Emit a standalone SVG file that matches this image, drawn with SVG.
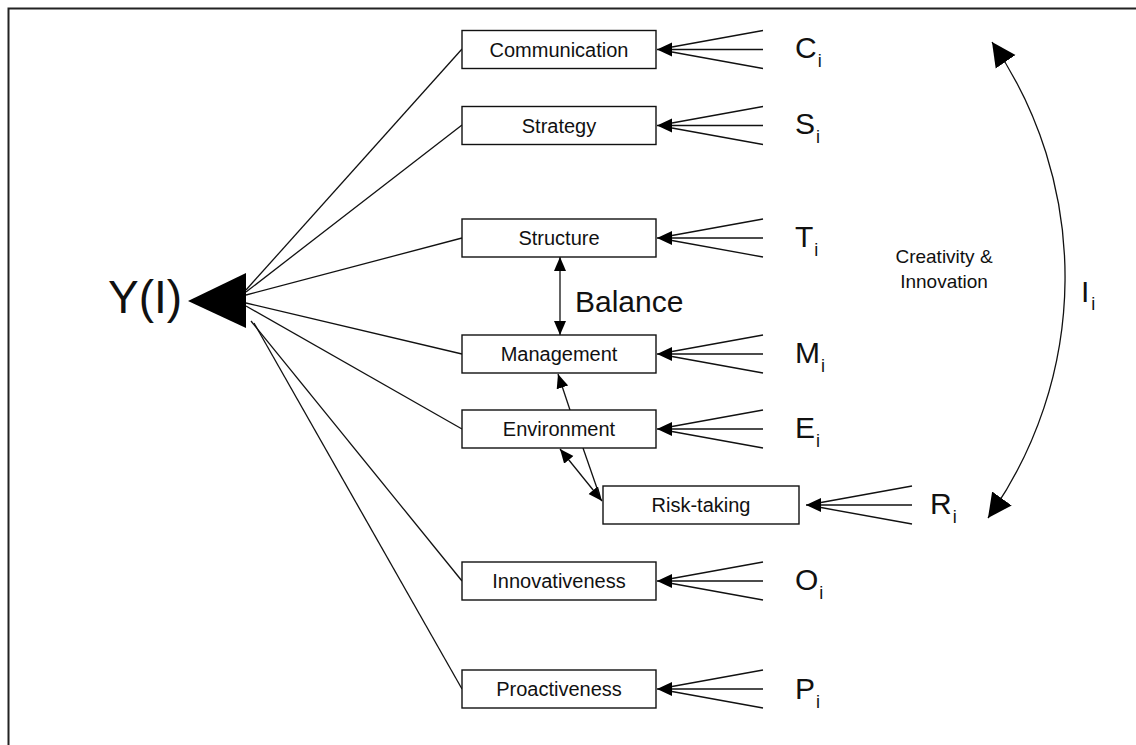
<svg xmlns="http://www.w3.org/2000/svg" width="1136" height="745" viewBox="0 0 1136 745">
  <style>
    .box rect { fill: #fff; stroke: #111; stroke-width: 1.4; }
    .box text { font-family: "Liberation Sans", Arial, sans-serif; font-size: 20px; fill: #111; text-anchor: middle; }
    .lbl { font-family: "Liberation Sans", Arial, sans-serif; font-size: 30px; fill: #111; }
    .lbl tspan.sub { font-size: 18px; }
    .ln { stroke: #111; stroke-width: 1.3; fill: none; }
    .note { font-family: "Liberation Sans", Arial, sans-serif; fill: #111; }
  </style>
  <defs>
    <marker id="tipSmall" markerUnits="userSpaceOnUse" markerWidth="16" markerHeight="16" viewBox="0 -8 16 16" refX="15" refY="0" orient="auto-start-reverse">
      <path d="M0,-7 L15,0 L0,7 z" fill="#000"/>
    </marker>
    <marker id="tipMid" markerUnits="userSpaceOnUse" markerWidth="16" markerHeight="16" viewBox="0 -8 16 16" refX="14" refY="0" orient="auto-start-reverse">
      <path d="M0,-6 L14,0 L0,6 z" fill="#000"/>
    </marker>
    <marker id="tipBig" markerUnits="userSpaceOnUse" markerWidth="26" markerHeight="26" viewBox="0 -13 26 26" refX="24" refY="0" orient="auto-start-reverse">
      <path d="M0,-12 L24,0 L0,12 z" fill="#000"/>
    </marker>
  </defs>

  <rect width="1136" height="745" fill="#fff"/>
  <!-- frame -->
  <path d="M8.5 760 V8.5 H1150" fill="none" stroke="#222" stroke-width="2"/>

  <!-- output node -->
  <g id="output">
    <text x="108" y="313" class="note" font-size="46">Y(I)</text>
    <polygon points="188,301 246,273 246,328" fill="#000"/>
  </g>

  <g id="connectors">
    <!-- from output to the dimension boxes -->
    <line class="ln" x1="246" y1="290" x2="462" y2="49"/>
    <line class="ln" x1="246" y1="292" x2="462" y2="125"/>
    <line class="ln" x1="246" y1="295" x2="462" y2="238"/>
    <line class="ln" x1="246" y1="303" x2="462" y2="354"/>
    <line class="ln" x1="246" y1="306" x2="462" y2="429"/>
    <line class="ln" x1="251" y1="321" x2="462" y2="581"/>
    <line class="ln" x1="254" y1="323" x2="462" y2="689"/>

    <!-- input fans -->
    <g id="fan-c" transform="translate(0,49.5)">
      <line class="ln" x1="763" y1="-19" x2="672" y2="-2.5"/>
      <line class="ln" x1="763" y1="0" x2="657" y2="0" marker-end="url(#tipSmall)"/>
      <line class="ln" x1="763" y1="19" x2="672" y2="2.5"/>
    </g>
    <g id="fan-s" transform="translate(0,125.5)">
      <line class="ln" x1="763" y1="-19" x2="672" y2="-2.5"/>
      <line class="ln" x1="763" y1="0" x2="657" y2="0" marker-end="url(#tipSmall)"/>
      <line class="ln" x1="763" y1="19" x2="672" y2="2.5"/>
    </g>
    <g id="fan-t" transform="translate(0,238)">
      <line class="ln" x1="763" y1="-19" x2="672" y2="-2.5"/>
      <line class="ln" x1="763" y1="0" x2="657" y2="0" marker-end="url(#tipSmall)"/>
      <line class="ln" x1="763" y1="19" x2="672" y2="2.5"/>
    </g>
    <g id="fan-m" transform="translate(0,354)">
      <line class="ln" x1="763" y1="-19" x2="672" y2="-2.5"/>
      <line class="ln" x1="763" y1="0" x2="657" y2="0" marker-end="url(#tipSmall)"/>
      <line class="ln" x1="763" y1="19" x2="672" y2="2.5"/>
    </g>
    <g id="fan-e" transform="translate(0,429)">
      <line class="ln" x1="763" y1="-19" x2="672" y2="-2.5"/>
      <line class="ln" x1="763" y1="0" x2="657" y2="0" marker-end="url(#tipSmall)"/>
      <line class="ln" x1="763" y1="19" x2="672" y2="2.5"/>
    </g>
    <g id="fan-r" transform="translate(0,505)">
      <line class="ln" x1="912" y1="-19" x2="821" y2="-2.5"/>
      <line class="ln" x1="912" y1="0" x2="806" y2="0" marker-end="url(#tipSmall)"/>
      <line class="ln" x1="912" y1="19" x2="821" y2="2.5"/>
    </g>
    <g id="fan-o" transform="translate(0,581)">
      <line class="ln" x1="763" y1="-19" x2="672" y2="-2.5"/>
      <line class="ln" x1="763" y1="0" x2="657" y2="0" marker-end="url(#tipSmall)"/>
      <line class="ln" x1="763" y1="19" x2="672" y2="2.5"/>
    </g>
    <g id="fan-p" transform="translate(0,689)">
      <line class="ln" x1="763" y1="-19" x2="672" y2="-2.5"/>
      <line class="ln" x1="763" y1="0" x2="657" y2="0" marker-end="url(#tipSmall)"/>
      <line class="ln" x1="763" y1="19" x2="672" y2="2.5"/>
    </g>

    <!-- links between boxes -->
    <line class="ln" x1="560" y1="257" x2="560" y2="335" marker-start="url(#tipMid)" marker-end="url(#tipMid)"/>
    <line class="ln" x1="570" y1="410" x2="558" y2="374" marker-end="url(#tipMid)"/>
    <line class="ln" x1="560" y1="449" x2="602" y2="501" marker-start="url(#tipMid)" marker-end="url(#tipMid)"/>
    <line class="ln" x1="583" y1="448" x2="599" y2="494"/>

    <!-- creativity arc -->
    <path class="ln" d="M992 42 A415 415 0 0 1 988 518" marker-start="url(#tipBig)" marker-end="url(#tipBig)"/>
  </g>

  <!-- dimension boxes -->
  <g id="communication" class="box"><rect x="462" y="30.5" width="194" height="38"/><text x="559" y="56.5">Communication</text></g>
  <g id="strategy" class="box"><rect x="462" y="106.5" width="194" height="38"/><text x="559" y="132.5">Strategy</text></g>
  <g id="structure" class="box"><rect x="462" y="219" width="194" height="38"/><text x="559" y="245">Structure</text></g>
  <g id="management" class="box"><rect x="462" y="335" width="194" height="38"/><text x="559" y="361">Management</text></g>
  <g id="environment" class="box"><rect x="462" y="410" width="194" height="38"/><text x="559" y="436">Environment</text></g>
  <g id="risk-taking" class="box"><rect x="603" y="486" width="196" height="38"/><text x="701" y="512">Risk-taking</text></g>
  <g id="innovativeness" class="box"><rect x="462" y="562" width="194" height="38"/><text x="559" y="588">Innovativeness</text></g>
  <g id="proactiveness" class="box"><rect x="462" y="670" width="194" height="38"/><text x="559" y="696">Proactiveness</text></g>

  <!-- input labels -->
  <g id="inputs">
    <text class="lbl" x="795" y="58">C<tspan class="sub" dx="1" dy="9">i</tspan></text>
    <text class="lbl" x="795" y="134">S<tspan class="sub" dx="1" dy="9">i</tspan></text>
    <text class="lbl" x="795" y="247">T<tspan class="sub" dx="1" dy="9">i</tspan></text>
    <text class="lbl" x="795" y="363">M<tspan class="sub" dx="1" dy="9">i</tspan></text>
    <text class="lbl" x="795" y="438">E<tspan class="sub" dx="1" dy="9">i</tspan></text>
    <text class="lbl" x="930" y="514">R<tspan class="sub" dx="1" dy="9">i</tspan></text>
    <text class="lbl" x="795" y="590">O<tspan class="sub" dx="1" dy="9">i</tspan></text>
    <text class="lbl" x="795" y="699">P<tspan class="sub" dx="1" dy="9">i</tspan></text>
    <text class="lbl" x="1081" y="302">I<tspan class="sub" dx="2" dy="8">i</tspan></text>
  </g>

  <g id="balance-label"><text class="note" x="575" y="312" font-size="30">Balance</text></g>
  <g id="creativity-label">
    <text class="note" x="944" y="263" font-size="19" text-anchor="middle">Creativity &amp;</text>
    <text class="note" x="944" y="288" font-size="19" text-anchor="middle">Innovation</text>
  </g>
</svg>
